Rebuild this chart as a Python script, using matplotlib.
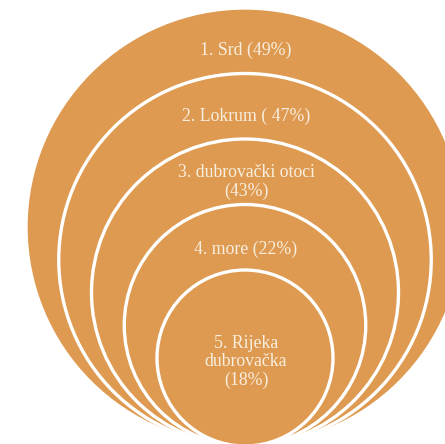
import numpy as np
import matplotlib.pyplot as plt
from matplotlib.patches import Circle

# data
labels = ["1. Srd (49%)", "2. Lokrum ( 47%)", "3. dubrovački otoci\n(43%)",
          "4. more (22%)", "5. Rijeka\ndubrovačka\n(18%)"]
shares = [49, 47, 43, 22, 18]

fill = "#DE9A50"
txt_col = "#F8EEDF"

fig = plt.figure(figsize=(4.45, 4.44), dpi=100)
ax = fig.add_axes([0, 0, 1, 1])
ax.set_xlim(0, 445)
ax.set_ylim(444, 0)
ax.set_aspect("equal")
ax.axis("off")

cx, base = 245, 446
radii = np.linspace(219, 88, len(labels))
text_y = [50, 116, 182, 249, 362]

for lab, r, ty in zip(labels, radii, text_y):
    c = Circle((cx, base - r), r, facecolor=fill, edgecolor="white", lw=2.4)
    ax.add_patch(c)
    ax.text(cx + 1, ty, lab, ha="center", va="center", color=txt_col,
            fontsize=12.8, family="Liberation Serif", linespacing=1.12)

fig.savefig("out.png", dpi=100)
